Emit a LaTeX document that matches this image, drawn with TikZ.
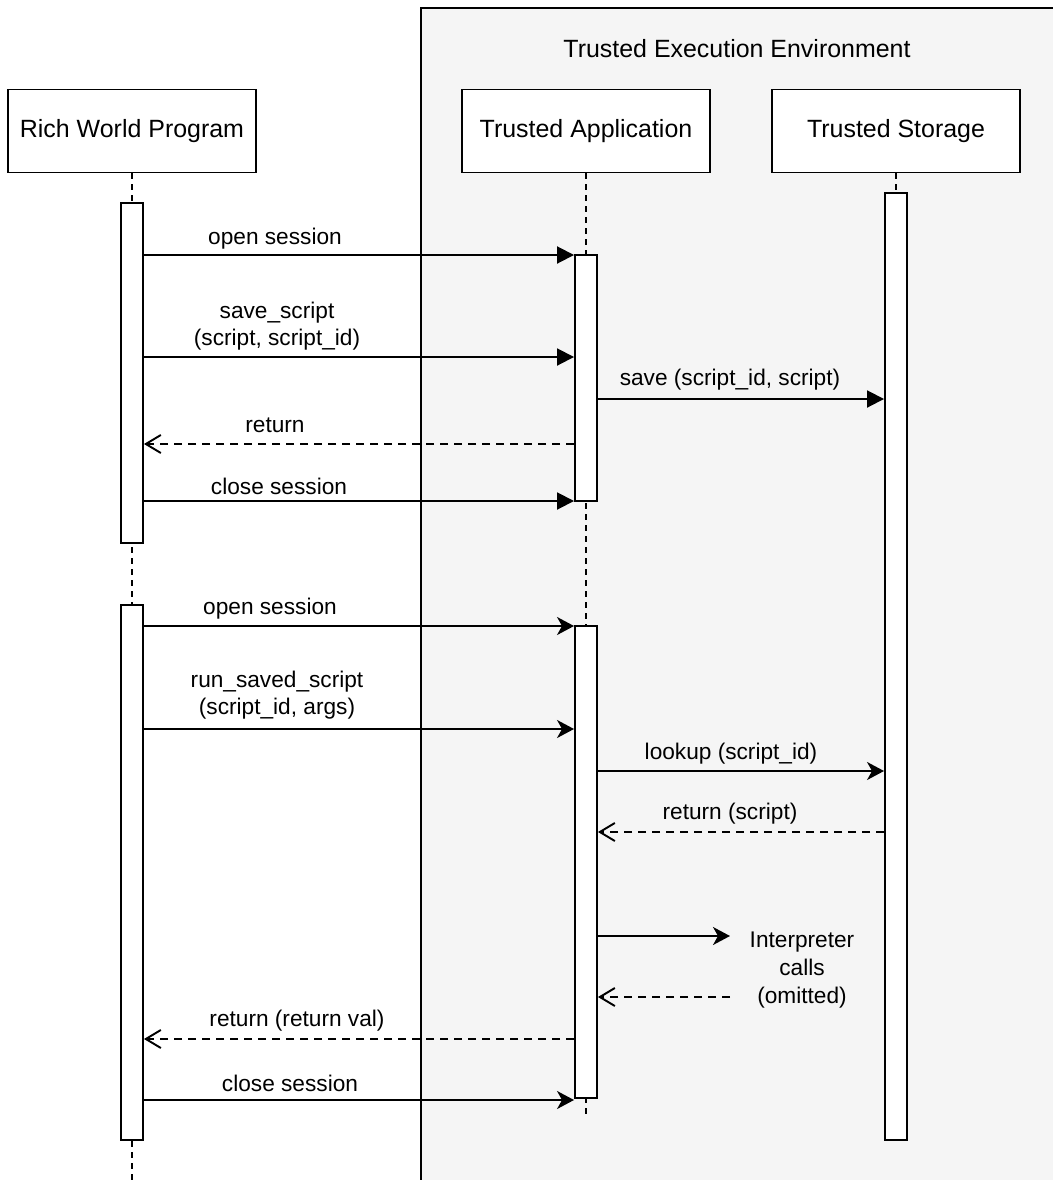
\documentclass[tikz,border=0pt]{standalone}
\usepackage{fontspec}
\setmainfont{Liberation Sans}
\usetikzlibrary{arrows.meta, positioning, fit}

\begin{document}
\begin{tikzpicture}[
    x=0.02cm, y=-0.02cm,
    font=\fontsize{12.9}{15.4}\selectfont,
    actor/.style={draw, line width=1.1pt, fill=white, minimum width=4.96cm,
                  minimum height=1.66cm, font=\fontsize{14.2}{17}\selectfont},
    bar/.style={draw, line width=1.1pt, fill=white, inner sep=0pt},
    life/.style={line width=1.1pt, dash pattern=on 0.12cm off 0.1cm},
    msga/.style={line width=1.1pt, -{Triangle[length=0.34cm, width=0.34cm]}},
    msgb/.style={line width=1.1pt, -{Stealth[length=0.34cm, width=0.36cm, inset=0.1cm]}},
    ret/.style={line width=1.1pt, dash pattern=on 0.16cm off 0.12cm,
                -{Straight Barb[length=0.3cm, width=0.36cm]}},
    lbl/.style={align=center, inner sep=0pt}
  ]
    \useasboundingbox (0,0) rectangle (1053,1180);

    % trusted execution environment
    \fill[black!4] (421,8) rectangle (1080,1200);
    \draw[line width=1.1pt] (421,1200) -- (421,8) -- (1080,8);
    \node (teetitle) at (737,49) {\fontsize{14.2}{17}\selectfont Trusted Execution Environment};

    % participants
    \node[actor] (rw) at (132,131) {Rich World Program};
    \node[actor] (ta) at (586,131) {Trusted Application};
    \node[actor] (ts) at (896,131) {Trusted Storage};

    % lifelines
    \draw[life] (rw.south) -- (rw.south |- 0,1180);
    \draw[life] (ta.south) -- (ta.south |- 0,1118);
    \draw[life] (ts.south) -- (ts.south |- 0,193);

    % activation bars
    \node[bar, fit={(121,203) (143,543)}] (rw1) {};
    \node[bar, fit={(121,605) (143,1140)}] (rw2) {};
    \node[bar, fit={(575,255) (597,501)}] (ta1) {};
    \node[bar, fit={(575,626) (597,1098)}] (ta2) {};
    \node[bar, fit={(885,193) (907,1140)}] (ts1) {};

    % first session
    \draw[msga] (rw1.east |- 0,255) -- (ta1.west |- 0,255);
    \node[lbl] (m1) at (275,239) {open session};
    \draw[msga] (rw1.east |- 0,357) -- (ta1.west |- 0,357);
    \node[lbl] (m2) at (277,326) {save\_script\\(script, script\_id)};
    \draw[msga] (ta1.east |- 0,399) -- (ts1.west |- 0,399);
    \node[lbl] (m3) at (730,380) {save (script\_id, script)};
    \draw[ret] (ta1.west |- 0,444) -- (rw1.east |- 0,444);
    \node[lbl] (m4) at (275,425) {return};
    \draw[msga] (rw1.east |- 0,501) -- (ta1.west |- 0,501);
    \node[lbl] (m5) at (279,486) {close session};

    % second session
    \draw[msgb] (rw2.east |- 0,626) -- (ta2.west |- 0,626);
    \node[lbl] (m6) at (270,609) {open session};
    \draw[msgb] (rw2.east |- 0,729) -- (ta2.west |- 0,729);
    \node[lbl] (m7) at (277,695) {run\_saved\_script\\(script\_id, args)};
    \draw[msgb] (ta2.east |- 0,771) -- (ts1.west |- 0,771);
    \node[lbl] (m8) at (731,754) {lookup (script\_id)};
    \draw[ret] (ts1.west |- 0,832) -- (ta2.east |- 0,832);
    \node[lbl] (m9) at (730,814) {return (script)};
    \coordinate (icall) at (730,936);
    \coordinate (iret) at (730,997);
    \draw[msgb] (ta2.east |- icall) -- (icall);
    \draw[ret] (iret) -- (ta2.east |- iret);
    \node[lbl, font=\fontsize{12.9}{16}\selectfont] (interp) at (802,970) {Interpreter\\calls\\(omitted)};
    \draw[ret] (ta2.west |- 0,1039) -- (rw2.east |- 0,1039);
    \node[lbl] (m10) at (297,1021) {return (return val)};
    \draw[msgb] (rw2.east |- 0,1100) -- (ta2.west |- 0,1100);
    \node[lbl] (m11) at (290,1083) {close session};
  \end{tikzpicture}
\end{document}
